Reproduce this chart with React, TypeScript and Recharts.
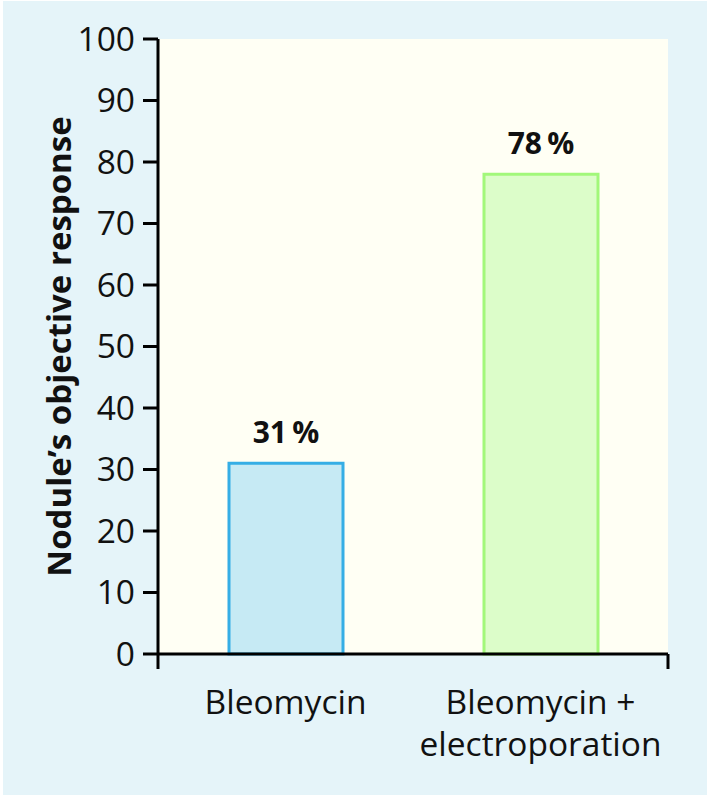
import React from 'react';
import { BarChart, Bar, XAxis, YAxis, CartesianGrid, Cell, LabelList, Label } from 'recharts';

const categories = ['Bleomycin', 'Bleomycin +\nelectroporation'];
const responseValues = [31, 78];
const yTicks = [0, 10, 20, 30, 40, 50, 60, 70, 80, 90, 100];
const boundaryTicks = [0, 1, 2];
const yAxisTitle = 'Nodule\u2019s objective response';

const data = categories.map((c, i) => ({ name: c, value: responseValues[i] }));

const fills = ['#c6eaf4', '#dcfdc9'];
const strokes = ['#35aee5', '#a2f87a'];
const FONT = '"Open Sans", "Noto Sans", sans-serif';
const INK = '#111111';

const CategoryTick = (props: any) => {
  const { x, y, payload } = props;
  const lines = String(payload.value).split('\n');
  return (
    <text x={x} y={y} textAnchor="middle" fontFamily={FONT} fontSize={33.5} fill={INK}>
      {lines.map((l, i) => (
        <tspan key={i} x={x} dy={42}>
          {l}
        </tspan>
      ))}
    </text>
  );
};

const YTitle = (props: any) => {
  const vb = props.viewBox || { x: 0, y: 0, width: 0, height: 0 };
  const cx = vb.x + 58;
  const cy = vb.y + vb.height / 2;
  return (
    <text
      x={cx}
      y={cy}
      transform={`rotate(-90, ${cx}, ${cy})`}
      textAnchor="middle"
      dominantBaseline="central"
      fontFamily={FONT}
      fontWeight={700}
      fontSize={33}
      fill={INK}
    >
      {yAxisTitle}
    </text>
  );
};

export default function App() {
  return (
    <div style={{ position: 'absolute', left: 0, top: 0, width: 709, height: 800, background: '#ffffff' }}>
      <div style={{ position: 'absolute', left: 3, top: 1, width: 704, height: 794, background: '#e5f4f9' }} />
      <div style={{ position: 'absolute', left: 0, top: 0 }}>
        <BarChart width={709} height={800} data={data} margin={{ top: 39, right: 41, bottom: 0, left: 0 }}>
          <CartesianGrid horizontal={false} vertical={false} fill="#fffff4" stroke="none" />
          <XAxis
            xAxisId="bounds"
            type="number"
            domain={[0, 2]}
            ticks={boundaryTicks}
            allowDataOverflow
            height={18}
            tickSize={15}
            tickFormatter={() => ''}
            axisLine={{ stroke: '#000', strokeWidth: 3 }}
            tickLine={{ stroke: '#000', strokeWidth: 3 }}
          />
          <XAxis
            xAxisId="cat"
            dataKey="name"
            type="category"
            height={128}
            axisLine={false}
            tickLine={false}
            tickSize={0}
            tickMargin={0}
            interval={0}
            tick={<CategoryTick />}
          />
          <YAxis
            type="number"
            domain={[0, 100]}
            ticks={yTicks}
            interval={0}
            width={158}
            tickSize={15}
            tickMargin={8}
            axisLine={{ stroke: '#000', strokeWidth: 3 }}
            tickLine={{ stroke: '#000', strokeWidth: 3 }}
            tick={{ fontFamily: FONT, fontSize: 33.5, fill: INK }}
          >
            <Label content={<YTitle />} />
          </YAxis>
          <Bar dataKey="value" xAxisId="cat" barSize={114} strokeWidth={3} isAnimationActive={false}>
            {data.map((d, i) => (
              <Cell key={d.name} fill={fills[i]} stroke={strokes[i]} />
            ))}
            <LabelList
              dataKey="value"
              position="top"
              offset={20}
              formatter={(v: any) => `${v} %`}
              style={{ fontFamily: FONT, fontWeight: 700, fontSize: 30, fill: INK, wordSpacing: -2.5 }}
            />
          </Bar>
        </BarChart>
      </div>
    </div>
  );
}
